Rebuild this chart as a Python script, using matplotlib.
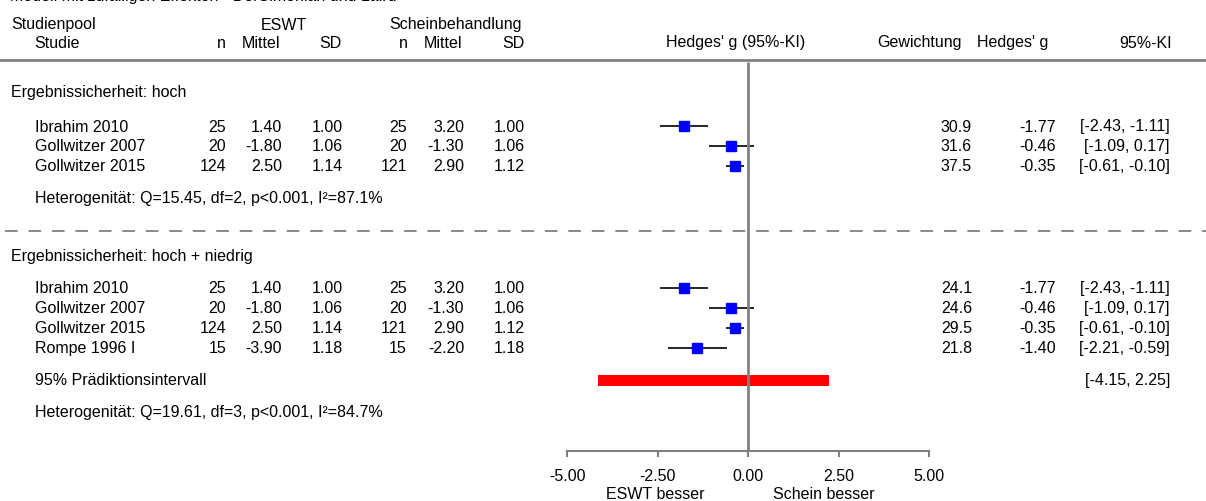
import matplotlib
matplotlib.use("Agg")
import matplotlib.pyplot as plt
from matplotlib.transforms import blended_transform_factory

plt.rcParams["font.family"] = ["Liberation Sans", "DejaVu Sans"]
plt.rcParams["font.size"] = 11.5

# Daten
studien = ["Ibrahim 2010", "Gollwitzer 2007", "Gollwitzer 2015", "Rompe 1996 I"]
eswt_n = [25, 20, 124, 15]
eswt_mittel = [1.40, -1.80, 2.50, -3.90]
eswt_sd = [1.00, 1.06, 1.14, 1.18]
schein_n = [25, 20, 121, 15]
schein_mittel = [3.20, -1.30, 2.90, -2.20]
schein_sd = [1.00, 1.06, 1.12, 1.18]
hedges_g = [-1.77, -0.46, -0.35, -1.40]
ki_unten = [-2.43, -1.09, -0.61, -2.21]
ki_oben = [-1.11, 0.17, -0.10, -0.59]
gewicht_hoch = [30.9, 31.6, 37.5]
gewicht_alle = [24.1, 24.6, 29.5, 21.8]
pi_unten, pi_oben = -4.15, 2.25
het_hoch = "Heterogenität: Q=15.45, df=2, p<0.001, I²=87.1%"
het_alle = "Heterogenität: Q=19.61, df=3, p<0.001, I²=84.7%"
x_ticks = [-5.0, -2.5, 0.0, 2.5, 5.0]

W, H = 1206, 502
fig = plt.figure(figsize=(W / 100, H / 100), dpi=100)
ax = fig.add_axes([567 / W, 0, (929 - 567) / W, 1])
ax.set_xlim(-5, 5)
ax.set_ylim(H, 0)
ax.patch.set_visible(False)
for s in ["top", "left", "right"]:
    ax.spines[s].set_visible(False)
ax.spines["bottom"].set_position(("data", 452))
ax.spines["bottom"].set_color("#808080")
ax.spines["bottom"].set_linewidth(1.5)
ax.set_yticks([])
ax.set_xticks(x_ticks)
ax.set_xticklabels([f"{t:.2f}" for t in x_ticks])
ax.tick_params(axis="x", direction="out", length=4, width=1.5, color="#808080", pad=8)

tr = blended_transform_factory(fig.transFigure, ax.transData)
GRAU = "#808080"


def txt(px, y, s, ha="left", **kw):
    ax.text(px / W, y, s, transform=tr, ha=ha, va="center", clip_on=False, **kw)


# Kopfzeile (oben abgeschnitten wie im Original)
ax.text(10 / W, 1, "Modell mit zufälligen Effekten - DerSimonian und Laird",
        transform=tr, ha="left", va="baseline", clip_on=False)
txt(11, 25, "Studienpool")
txt(34, 43, "Studie")
txt(284, 25, "ESWT", ha="center")
txt(456, 25, "Scheinbehandlung", ha="center")
for px, s in [(226, "n"), (280, "Mittel"), (342, "SD"), (408, "n"), (462, "Mittel"), (525, "SD")]:
    txt(px, 43, s, ha="right")
txt(736, 43, "Hedges' g (95%-KI)", ha="center")
txt(920, 43, "Gewichtung", ha="center")
txt(1013, 43, "Hedges' g", ha="center")
txt(1172, 43, "95%-KI", ha="right")

ax.plot([0, 1], [61, 61], transform=tr, color=GRAU, lw=2, clip_on=False)
ax.plot([5 / W, 1], [232, 232], transform=tr, color=GRAU, lw=1.3,
        dashes=(7, 6), clip_on=False)
ax.vlines(0, 63, 452, color=GRAU, lw=2, zorder=5)


def gruppe(titel, y_titel, y_rows, gewichte, y_het, het):
    txt(11, y_titel, titel)
    for i, y in enumerate(y_rows):
        txt(35, y, studien[i])
        txt(226, y, f"{eswt_n[i]}", ha="right")
        txt(282, y, f"{eswt_mittel[i]:.2f}", ha="right")
        txt(343, y, f"{eswt_sd[i]:.2f}", ha="right")
        txt(407, y, f"{schein_n[i]}", ha="right")
        txt(464, y, f"{schein_mittel[i]:.2f}", ha="right")
        txt(525, y, f"{schein_sd[i]:.2f}", ha="right")
        txt(972, y, f"{gewichte[i]:.1f}", ha="right")
        txt(1056, y, f"{hedges_g[i]:.2f}", ha="right")
        txt(1170, y, f"[{ki_unten[i]:.2f}, {ki_oben[i]:.2f}]", ha="right")
        ax.hlines(y, ki_unten[i], ki_oben[i], color="black", lw=1.2, zorder=3)
        ax.plot(hedges_g[i], y, "s", color="#0000ff", mec="#0000ff",
                ms=6.0 + 0.05 * gewichte[i], zorder=4)
    txt(35, y_het, het)


gruppe("Ergebnissicherheit: hoch", 93, [127, 147, 167], gewicht_hoch, 199, het_hoch)
gruppe("Ergebnissicherheit: hoch + niedrig", 256, [289, 309, 329, 349], gewicht_alle, 413, het_alle)

txt(35, 381, "95% Prädiktionsintervall")
ax.barh(381, pi_oben - pi_unten, left=pi_unten, height=11, color="#ff0000", zorder=2)
txt(1170, 381, f"[{pi_unten:.2f}, {pi_oben:.2f}]", ha="right")

txt(655, 495, "ESWT besser", ha="center")
txt(824, 495, "Schein besser", ha="center")

fig.savefig("out.png", dpi=100)
